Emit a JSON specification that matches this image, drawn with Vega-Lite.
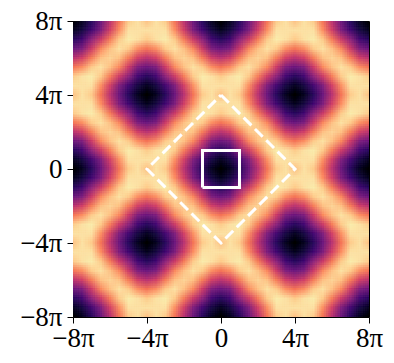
{"$schema":"https://vega.github.io/schema/vega-lite/v6.json","width":296,"height":296,"autosize":"none","padding":{"left":73,"top":21,"right":25,"bottom":46},"background":"white","view":{"stroke":"#000","strokeWidth":1},
"data":{"values":[
{"x":-8,"y":8,"v":0},{"x":-7.5,"y":8,"v":0.07},{"x":-7,"y":8,"v":0.17},{"x":-6.5,"y":8,"v":0.33},{"x":-6,"y":8,"v":0.52},{"x":-5.5,"y":8,"v":0.72},{"x":-5,"y":8,"v":0.9},{"x":-4.5,"y":8,"v":0.95},{"x":-4,"y":8,"v":0.88},{"x":-3.5,"y":8,"v":0.95},{"x":-3,"y":8,"v":0.9},{"x":-2.5,"y":8,"v":0.72},{"x":-2,"y":8,"v":0.52},{"x":-1.5,"y":8,"v":0.33},{"x":-1,"y":8,"v":0.17},{"x":-0.5,"y":8,"v":0.07},{"x":0,"y":8,"v":0},{"x":0.5,"y":8,"v":0.07},{"x":1,"y":8,"v":0.17},{"x":1.5,"y":8,"v":0.33},{"x":2,"y":8,"v":0.52},{"x":2.5,"y":8,"v":0.72},{"x":3,"y":8,"v":0.9},{"x":3.5,"y":8,"v":0.95},{"x":4,"y":8,"v":0.88},{"x":4.5,"y":8,"v":0.95},{"x":5,"y":8,"v":0.9},{"x":5.5,"y":8,"v":0.72},{"x":6,"y":8,"v":0.52},{"x":6.5,"y":8,"v":0.33},{"x":7,"y":8,"v":0.17},{"x":7.5,"y":8,"v":0.07},{"x":8,"y":8,"v":0},
{"x":-8,"y":7.5,"v":0.07},{"x":-7.5,"y":7.5,"v":0.13},{"x":-7,"y":7.5,"v":0.23},{"x":-6.5,"y":7.5,"v":0.38},{"x":-6,"y":7.5,"v":0.58},{"x":-5.5,"y":7.5,"v":0.78},{"x":-5,"y":7.5,"v":0.95},{"x":-4.5,"y":7.5,"v":0.95},{"x":-4,"y":7.5,"v":0.95},{"x":-3.5,"y":7.5,"v":0.95},{"x":-3,"y":7.5,"v":0.95},{"x":-2.5,"y":7.5,"v":0.78},{"x":-2,"y":7.5,"v":0.58},{"x":-1.5,"y":7.5,"v":0.38},{"x":-1,"y":7.5,"v":0.23},{"x":-0.5,"y":7.5,"v":0.13},{"x":0,"y":7.5,"v":0.07},{"x":0.5,"y":7.5,"v":0.13},{"x":1,"y":7.5,"v":0.23},{"x":1.5,"y":7.5,"v":0.38},{"x":2,"y":7.5,"v":0.58},{"x":2.5,"y":7.5,"v":0.78},{"x":3,"y":7.5,"v":0.95},{"x":3.5,"y":7.5,"v":0.95},{"x":4,"y":7.5,"v":0.95},{"x":4.5,"y":7.5,"v":0.95},{"x":5,"y":7.5,"v":0.95},{"x":5.5,"y":7.5,"v":0.78},{"x":6,"y":7.5,"v":0.58},{"x":6.5,"y":7.5,"v":0.38},{"x":7,"y":7.5,"v":0.23},{"x":7.5,"y":7.5,"v":0.13},{"x":8,"y":7.5,"v":0.07},
{"x":-8,"y":7,"v":0.17},{"x":-7.5,"y":7,"v":0.23},{"x":-7,"y":7,"v":0.42},{"x":-6.5,"y":7,"v":0.56},{"x":-6,"y":7,"v":0.74},{"x":-5.5,"y":7,"v":0.9},{"x":-5,"y":7,"v":0.97},{"x":-4.5,"y":7,"v":0.95},{"x":-4,"y":7,"v":0.9},{"x":-3.5,"y":7,"v":0.95},{"x":-3,"y":7,"v":0.97},{"x":-2.5,"y":7,"v":0.9},{"x":-2,"y":7,"v":0.74},{"x":-1.5,"y":7,"v":0.56},{"x":-1,"y":7,"v":0.42},{"x":-0.5,"y":7,"v":0.23},{"x":0,"y":7,"v":0.17},{"x":0.5,"y":7,"v":0.23},{"x":1,"y":7,"v":0.42},{"x":1.5,"y":7,"v":0.56},{"x":2,"y":7,"v":0.74},{"x":2.5,"y":7,"v":0.9},{"x":3,"y":7,"v":0.97},{"x":3.5,"y":7,"v":0.95},{"x":4,"y":7,"v":0.9},{"x":4.5,"y":7,"v":0.95},{"x":5,"y":7,"v":0.97},{"x":5.5,"y":7,"v":0.9},{"x":6,"y":7,"v":0.74},{"x":6.5,"y":7,"v":0.56},{"x":7,"y":7,"v":0.42},{"x":7.5,"y":7,"v":0.23},{"x":8,"y":7,"v":0.17},
{"x":-8,"y":6.5,"v":0.33},{"x":-7.5,"y":6.5,"v":0.38},{"x":-7,"y":6.5,"v":0.56},{"x":-6.5,"y":6.5,"v":0.76},{"x":-6,"y":6.5,"v":0.88},{"x":-5.5,"y":6.5,"v":0.95},{"x":-5,"y":6.5,"v":0.9},{"x":-4.5,"y":6.5,"v":0.78},{"x":-4,"y":6.5,"v":0.72},{"x":-3.5,"y":6.5,"v":0.78},{"x":-3,"y":6.5,"v":0.9},{"x":-2.5,"y":6.5,"v":0.95},{"x":-2,"y":6.5,"v":0.88},{"x":-1.5,"y":6.5,"v":0.76},{"x":-1,"y":6.5,"v":0.56},{"x":-0.5,"y":6.5,"v":0.38},{"x":0,"y":6.5,"v":0.33},{"x":0.5,"y":6.5,"v":0.38},{"x":1,"y":6.5,"v":0.56},{"x":1.5,"y":6.5,"v":0.76},{"x":2,"y":6.5,"v":0.88},{"x":2.5,"y":6.5,"v":0.95},{"x":3,"y":6.5,"v":0.9},{"x":3.5,"y":6.5,"v":0.78},{"x":4,"y":6.5,"v":0.72},{"x":4.5,"y":6.5,"v":0.78},{"x":5,"y":6.5,"v":0.9},{"x":5.5,"y":6.5,"v":0.95},{"x":6,"y":6.5,"v":0.88},{"x":6.5,"y":6.5,"v":0.76},{"x":7,"y":6.5,"v":0.56},{"x":7.5,"y":6.5,"v":0.38},{"x":8,"y":6.5,"v":0.33},
{"x":-8,"y":6,"v":0.52},{"x":-7.5,"y":6,"v":0.58},{"x":-7,"y":6,"v":0.74},{"x":-6.5,"y":6,"v":0.88},{"x":-6,"y":6,"v":0.92},{"x":-5.5,"y":6,"v":0.88},{"x":-5,"y":6,"v":0.74},{"x":-4.5,"y":6,"v":0.58},{"x":-4,"y":6,"v":0.52},{"x":-3.5,"y":6,"v":0.58},{"x":-3,"y":6,"v":0.74},{"x":-2.5,"y":6,"v":0.88},{"x":-2,"y":6,"v":0.92},{"x":-1.5,"y":6,"v":0.88},{"x":-1,"y":6,"v":0.74},{"x":-0.5,"y":6,"v":0.58},{"x":0,"y":6,"v":0.52},{"x":0.5,"y":6,"v":0.58},{"x":1,"y":6,"v":0.74},{"x":1.5,"y":6,"v":0.88},{"x":2,"y":6,"v":0.92},{"x":2.5,"y":6,"v":0.88},{"x":3,"y":6,"v":0.74},{"x":3.5,"y":6,"v":0.58},{"x":4,"y":6,"v":0.52},{"x":4.5,"y":6,"v":0.58},{"x":5,"y":6,"v":0.74},{"x":5.5,"y":6,"v":0.88},{"x":6,"y":6,"v":0.92},{"x":6.5,"y":6,"v":0.88},{"x":7,"y":6,"v":0.74},{"x":7.5,"y":6,"v":0.58},{"x":8,"y":6,"v":0.52},
{"x":-8,"y":5.5,"v":0.72},{"x":-7.5,"y":5.5,"v":0.78},{"x":-7,"y":5.5,"v":0.9},{"x":-6.5,"y":5.5,"v":0.95},{"x":-6,"y":5.5,"v":0.88},{"x":-5.5,"y":5.5,"v":0.76},{"x":-5,"y":5.5,"v":0.56},{"x":-4.5,"y":5.5,"v":0.38},{"x":-4,"y":5.5,"v":0.33},{"x":-3.5,"y":5.5,"v":0.38},{"x":-3,"y":5.5,"v":0.56},{"x":-2.5,"y":5.5,"v":0.76},{"x":-2,"y":5.5,"v":0.88},{"x":-1.5,"y":5.5,"v":0.95},{"x":-1,"y":5.5,"v":0.9},{"x":-0.5,"y":5.5,"v":0.78},{"x":0,"y":5.5,"v":0.72},{"x":0.5,"y":5.5,"v":0.78},{"x":1,"y":5.5,"v":0.9},{"x":1.5,"y":5.5,"v":0.95},{"x":2,"y":5.5,"v":0.88},{"x":2.5,"y":5.5,"v":0.76},{"x":3,"y":5.5,"v":0.56},{"x":3.5,"y":5.5,"v":0.38},{"x":4,"y":5.5,"v":0.33},{"x":4.5,"y":5.5,"v":0.38},{"x":5,"y":5.5,"v":0.56},{"x":5.5,"y":5.5,"v":0.76},{"x":6,"y":5.5,"v":0.88},{"x":6.5,"y":5.5,"v":0.95},{"x":7,"y":5.5,"v":0.9},{"x":7.5,"y":5.5,"v":0.78},{"x":8,"y":5.5,"v":0.72},
{"x":-8,"y":5,"v":0.9},{"x":-7.5,"y":5,"v":0.95},{"x":-7,"y":5,"v":0.97},{"x":-6.5,"y":5,"v":0.9},{"x":-6,"y":5,"v":0.74},{"x":-5.5,"y":5,"v":0.56},{"x":-5,"y":5,"v":0.42},{"x":-4.5,"y":5,"v":0.23},{"x":-4,"y":5,"v":0.17},{"x":-3.5,"y":5,"v":0.23},{"x":-3,"y":5,"v":0.42},{"x":-2.5,"y":5,"v":0.56},{"x":-2,"y":5,"v":0.74},{"x":-1.5,"y":5,"v":0.9},{"x":-1,"y":5,"v":0.97},{"x":-0.5,"y":5,"v":0.95},{"x":0,"y":5,"v":0.9},{"x":0.5,"y":5,"v":0.95},{"x":1,"y":5,"v":0.97},{"x":1.5,"y":5,"v":0.9},{"x":2,"y":5,"v":0.74},{"x":2.5,"y":5,"v":0.56},{"x":3,"y":5,"v":0.42},{"x":3.5,"y":5,"v":0.23},{"x":4,"y":5,"v":0.17},{"x":4.5,"y":5,"v":0.23},{"x":5,"y":5,"v":0.42},{"x":5.5,"y":5,"v":0.56},{"x":6,"y":5,"v":0.74},{"x":6.5,"y":5,"v":0.9},{"x":7,"y":5,"v":0.97},{"x":7.5,"y":5,"v":0.95},{"x":8,"y":5,"v":0.9},
{"x":-8,"y":4.5,"v":0.95},{"x":-7.5,"y":4.5,"v":0.95},{"x":-7,"y":4.5,"v":0.95},{"x":-6.5,"y":4.5,"v":0.78},{"x":-6,"y":4.5,"v":0.58},{"x":-5.5,"y":4.5,"v":0.38},{"x":-5,"y":4.5,"v":0.23},{"x":-4.5,"y":4.5,"v":0.13},{"x":-4,"y":4.5,"v":0.07},{"x":-3.5,"y":4.5,"v":0.13},{"x":-3,"y":4.5,"v":0.23},{"x":-2.5,"y":4.5,"v":0.38},{"x":-2,"y":4.5,"v":0.58},{"x":-1.5,"y":4.5,"v":0.78},{"x":-1,"y":4.5,"v":0.95},{"x":-0.5,"y":4.5,"v":0.95},{"x":0,"y":4.5,"v":0.95},{"x":0.5,"y":4.5,"v":0.95},{"x":1,"y":4.5,"v":0.95},{"x":1.5,"y":4.5,"v":0.78},{"x":2,"y":4.5,"v":0.58},{"x":2.5,"y":4.5,"v":0.38},{"x":3,"y":4.5,"v":0.23},{"x":3.5,"y":4.5,"v":0.13},{"x":4,"y":4.5,"v":0.07},{"x":4.5,"y":4.5,"v":0.13},{"x":5,"y":4.5,"v":0.23},{"x":5.5,"y":4.5,"v":0.38},{"x":6,"y":4.5,"v":0.58},{"x":6.5,"y":4.5,"v":0.78},{"x":7,"y":4.5,"v":0.95},{"x":7.5,"y":4.5,"v":0.95},{"x":8,"y":4.5,"v":0.95},
{"x":-8,"y":4,"v":0.88},{"x":-7.5,"y":4,"v":0.95},{"x":-7,"y":4,"v":0.9},{"x":-6.5,"y":4,"v":0.72},{"x":-6,"y":4,"v":0.52},{"x":-5.5,"y":4,"v":0.33},{"x":-5,"y":4,"v":0.17},{"x":-4.5,"y":4,"v":0.07},{"x":-4,"y":4,"v":0},{"x":-3.5,"y":4,"v":0.07},{"x":-3,"y":4,"v":0.17},{"x":-2.5,"y":4,"v":0.33},{"x":-2,"y":4,"v":0.52},{"x":-1.5,"y":4,"v":0.72},{"x":-1,"y":4,"v":0.9},{"x":-0.5,"y":4,"v":0.95},{"x":0,"y":4,"v":0.88},{"x":0.5,"y":4,"v":0.95},{"x":1,"y":4,"v":0.9},{"x":1.5,"y":4,"v":0.72},{"x":2,"y":4,"v":0.52},{"x":2.5,"y":4,"v":0.33},{"x":3,"y":4,"v":0.17},{"x":3.5,"y":4,"v":0.07},{"x":4,"y":4,"v":0},{"x":4.5,"y":4,"v":0.07},{"x":5,"y":4,"v":0.17},{"x":5.5,"y":4,"v":0.33},{"x":6,"y":4,"v":0.52},{"x":6.5,"y":4,"v":0.72},{"x":7,"y":4,"v":0.9},{"x":7.5,"y":4,"v":0.95},{"x":8,"y":4,"v":0.88},
{"x":-8,"y":3.5,"v":0.95},{"x":-7.5,"y":3.5,"v":0.95},{"x":-7,"y":3.5,"v":0.95},{"x":-6.5,"y":3.5,"v":0.78},{"x":-6,"y":3.5,"v":0.58},{"x":-5.5,"y":3.5,"v":0.38},{"x":-5,"y":3.5,"v":0.23},{"x":-4.5,"y":3.5,"v":0.13},{"x":-4,"y":3.5,"v":0.07},{"x":-3.5,"y":3.5,"v":0.13},{"x":-3,"y":3.5,"v":0.23},{"x":-2.5,"y":3.5,"v":0.38},{"x":-2,"y":3.5,"v":0.58},{"x":-1.5,"y":3.5,"v":0.78},{"x":-1,"y":3.5,"v":0.95},{"x":-0.5,"y":3.5,"v":0.95},{"x":0,"y":3.5,"v":0.95},{"x":0.5,"y":3.5,"v":0.95},{"x":1,"y":3.5,"v":0.95},{"x":1.5,"y":3.5,"v":0.78},{"x":2,"y":3.5,"v":0.58},{"x":2.5,"y":3.5,"v":0.38},{"x":3,"y":3.5,"v":0.23},{"x":3.5,"y":3.5,"v":0.13},{"x":4,"y":3.5,"v":0.07},{"x":4.5,"y":3.5,"v":0.13},{"x":5,"y":3.5,"v":0.23},{"x":5.5,"y":3.5,"v":0.38},{"x":6,"y":3.5,"v":0.58},{"x":6.5,"y":3.5,"v":0.78},{"x":7,"y":3.5,"v":0.95},{"x":7.5,"y":3.5,"v":0.95},{"x":8,"y":3.5,"v":0.95},
{"x":-8,"y":3,"v":0.9},{"x":-7.5,"y":3,"v":0.95},{"x":-7,"y":3,"v":0.97},{"x":-6.5,"y":3,"v":0.9},{"x":-6,"y":3,"v":0.74},{"x":-5.5,"y":3,"v":0.56},{"x":-5,"y":3,"v":0.42},{"x":-4.5,"y":3,"v":0.23},{"x":-4,"y":3,"v":0.17},{"x":-3.5,"y":3,"v":0.23},{"x":-3,"y":3,"v":0.42},{"x":-2.5,"y":3,"v":0.56},{"x":-2,"y":3,"v":0.74},{"x":-1.5,"y":3,"v":0.9},{"x":-1,"y":3,"v":0.97},{"x":-0.5,"y":3,"v":0.95},{"x":0,"y":3,"v":0.9},{"x":0.5,"y":3,"v":0.95},{"x":1,"y":3,"v":0.97},{"x":1.5,"y":3,"v":0.9},{"x":2,"y":3,"v":0.74},{"x":2.5,"y":3,"v":0.56},{"x":3,"y":3,"v":0.42},{"x":3.5,"y":3,"v":0.23},{"x":4,"y":3,"v":0.17},{"x":4.5,"y":3,"v":0.23},{"x":5,"y":3,"v":0.42},{"x":5.5,"y":3,"v":0.56},{"x":6,"y":3,"v":0.74},{"x":6.5,"y":3,"v":0.9},{"x":7,"y":3,"v":0.97},{"x":7.5,"y":3,"v":0.95},{"x":8,"y":3,"v":0.9},
{"x":-8,"y":2.5,"v":0.72},{"x":-7.5,"y":2.5,"v":0.78},{"x":-7,"y":2.5,"v":0.9},{"x":-6.5,"y":2.5,"v":0.95},{"x":-6,"y":2.5,"v":0.88},{"x":-5.5,"y":2.5,"v":0.76},{"x":-5,"y":2.5,"v":0.56},{"x":-4.5,"y":2.5,"v":0.38},{"x":-4,"y":2.5,"v":0.33},{"x":-3.5,"y":2.5,"v":0.38},{"x":-3,"y":2.5,"v":0.56},{"x":-2.5,"y":2.5,"v":0.76},{"x":-2,"y":2.5,"v":0.88},{"x":-1.5,"y":2.5,"v":0.95},{"x":-1,"y":2.5,"v":0.9},{"x":-0.5,"y":2.5,"v":0.78},{"x":0,"y":2.5,"v":0.72},{"x":0.5,"y":2.5,"v":0.78},{"x":1,"y":2.5,"v":0.9},{"x":1.5,"y":2.5,"v":0.95},{"x":2,"y":2.5,"v":0.88},{"x":2.5,"y":2.5,"v":0.76},{"x":3,"y":2.5,"v":0.56},{"x":3.5,"y":2.5,"v":0.38},{"x":4,"y":2.5,"v":0.33},{"x":4.5,"y":2.5,"v":0.38},{"x":5,"y":2.5,"v":0.56},{"x":5.5,"y":2.5,"v":0.76},{"x":6,"y":2.5,"v":0.88},{"x":6.5,"y":2.5,"v":0.95},{"x":7,"y":2.5,"v":0.9},{"x":7.5,"y":2.5,"v":0.78},{"x":8,"y":2.5,"v":0.72},
{"x":-8,"y":2,"v":0.52},{"x":-7.5,"y":2,"v":0.58},{"x":-7,"y":2,"v":0.74},{"x":-6.5,"y":2,"v":0.88},{"x":-6,"y":2,"v":0.92},{"x":-5.5,"y":2,"v":0.88},{"x":-5,"y":2,"v":0.74},{"x":-4.5,"y":2,"v":0.58},{"x":-4,"y":2,"v":0.52},{"x":-3.5,"y":2,"v":0.58},{"x":-3,"y":2,"v":0.74},{"x":-2.5,"y":2,"v":0.88},{"x":-2,"y":2,"v":0.92},{"x":-1.5,"y":2,"v":0.88},{"x":-1,"y":2,"v":0.74},{"x":-0.5,"y":2,"v":0.58},{"x":0,"y":2,"v":0.52},{"x":0.5,"y":2,"v":0.58},{"x":1,"y":2,"v":0.74},{"x":1.5,"y":2,"v":0.88},{"x":2,"y":2,"v":0.92},{"x":2.5,"y":2,"v":0.88},{"x":3,"y":2,"v":0.74},{"x":3.5,"y":2,"v":0.58},{"x":4,"y":2,"v":0.52},{"x":4.5,"y":2,"v":0.58},{"x":5,"y":2,"v":0.74},{"x":5.5,"y":2,"v":0.88},{"x":6,"y":2,"v":0.92},{"x":6.5,"y":2,"v":0.88},{"x":7,"y":2,"v":0.74},{"x":7.5,"y":2,"v":0.58},{"x":8,"y":2,"v":0.52},
{"x":-8,"y":1.5,"v":0.33},{"x":-7.5,"y":1.5,"v":0.38},{"x":-7,"y":1.5,"v":0.56},{"x":-6.5,"y":1.5,"v":0.76},{"x":-6,"y":1.5,"v":0.88},{"x":-5.5,"y":1.5,"v":0.95},{"x":-5,"y":1.5,"v":0.9},{"x":-4.5,"y":1.5,"v":0.78},{"x":-4,"y":1.5,"v":0.72},{"x":-3.5,"y":1.5,"v":0.78},{"x":-3,"y":1.5,"v":0.9},{"x":-2.5,"y":1.5,"v":0.95},{"x":-2,"y":1.5,"v":0.88},{"x":-1.5,"y":1.5,"v":0.76},{"x":-1,"y":1.5,"v":0.56},{"x":-0.5,"y":1.5,"v":0.38},{"x":0,"y":1.5,"v":0.33},{"x":0.5,"y":1.5,"v":0.38},{"x":1,"y":1.5,"v":0.56},{"x":1.5,"y":1.5,"v":0.76},{"x":2,"y":1.5,"v":0.88},{"x":2.5,"y":1.5,"v":0.95},{"x":3,"y":1.5,"v":0.9},{"x":3.5,"y":1.5,"v":0.78},{"x":4,"y":1.5,"v":0.72},{"x":4.5,"y":1.5,"v":0.78},{"x":5,"y":1.5,"v":0.9},{"x":5.5,"y":1.5,"v":0.95},{"x":6,"y":1.5,"v":0.88},{"x":6.5,"y":1.5,"v":0.76},{"x":7,"y":1.5,"v":0.56},{"x":7.5,"y":1.5,"v":0.38},{"x":8,"y":1.5,"v":0.33},
{"x":-8,"y":1,"v":0.17},{"x":-7.5,"y":1,"v":0.23},{"x":-7,"y":1,"v":0.42},{"x":-6.5,"y":1,"v":0.56},{"x":-6,"y":1,"v":0.74},{"x":-5.5,"y":1,"v":0.9},{"x":-5,"y":1,"v":0.97},{"x":-4.5,"y":1,"v":0.95},{"x":-4,"y":1,"v":0.9},{"x":-3.5,"y":1,"v":0.95},{"x":-3,"y":1,"v":0.97},{"x":-2.5,"y":1,"v":0.9},{"x":-2,"y":1,"v":0.74},{"x":-1.5,"y":1,"v":0.56},{"x":-1,"y":1,"v":0.42},{"x":-0.5,"y":1,"v":0.23},{"x":0,"y":1,"v":0.17},{"x":0.5,"y":1,"v":0.23},{"x":1,"y":1,"v":0.42},{"x":1.5,"y":1,"v":0.56},{"x":2,"y":1,"v":0.74},{"x":2.5,"y":1,"v":0.9},{"x":3,"y":1,"v":0.97},{"x":3.5,"y":1,"v":0.95},{"x":4,"y":1,"v":0.9},{"x":4.5,"y":1,"v":0.95},{"x":5,"y":1,"v":0.97},{"x":5.5,"y":1,"v":0.9},{"x":6,"y":1,"v":0.74},{"x":6.5,"y":1,"v":0.56},{"x":7,"y":1,"v":0.42},{"x":7.5,"y":1,"v":0.23},{"x":8,"y":1,"v":0.17},
{"x":-8,"y":0.5,"v":0.07},{"x":-7.5,"y":0.5,"v":0.13},{"x":-7,"y":0.5,"v":0.23},{"x":-6.5,"y":0.5,"v":0.38},{"x":-6,"y":0.5,"v":0.58},{"x":-5.5,"y":0.5,"v":0.78},{"x":-5,"y":0.5,"v":0.95},{"x":-4.5,"y":0.5,"v":0.95},{"x":-4,"y":0.5,"v":0.95},{"x":-3.5,"y":0.5,"v":0.95},{"x":-3,"y":0.5,"v":0.95},{"x":-2.5,"y":0.5,"v":0.78},{"x":-2,"y":0.5,"v":0.58},{"x":-1.5,"y":0.5,"v":0.38},{"x":-1,"y":0.5,"v":0.23},{"x":-0.5,"y":0.5,"v":0.13},{"x":0,"y":0.5,"v":0.07},{"x":0.5,"y":0.5,"v":0.13},{"x":1,"y":0.5,"v":0.23},{"x":1.5,"y":0.5,"v":0.38},{"x":2,"y":0.5,"v":0.58},{"x":2.5,"y":0.5,"v":0.78},{"x":3,"y":0.5,"v":0.95},{"x":3.5,"y":0.5,"v":0.95},{"x":4,"y":0.5,"v":0.95},{"x":4.5,"y":0.5,"v":0.95},{"x":5,"y":0.5,"v":0.95},{"x":5.5,"y":0.5,"v":0.78},{"x":6,"y":0.5,"v":0.58},{"x":6.5,"y":0.5,"v":0.38},{"x":7,"y":0.5,"v":0.23},{"x":7.5,"y":0.5,"v":0.13},{"x":8,"y":0.5,"v":0.07},
{"x":-8,"y":0,"v":0},{"x":-7.5,"y":0,"v":0.07},{"x":-7,"y":0,"v":0.17},{"x":-6.5,"y":0,"v":0.33},{"x":-6,"y":0,"v":0.52},{"x":-5.5,"y":0,"v":0.72},{"x":-5,"y":0,"v":0.9},{"x":-4.5,"y":0,"v":0.95},{"x":-4,"y":0,"v":0.88},{"x":-3.5,"y":0,"v":0.95},{"x":-3,"y":0,"v":0.9},{"x":-2.5,"y":0,"v":0.72},{"x":-2,"y":0,"v":0.52},{"x":-1.5,"y":0,"v":0.33},{"x":-1,"y":0,"v":0.17},{"x":-0.5,"y":0,"v":0.07},{"x":0,"y":0,"v":0},{"x":0.5,"y":0,"v":0.07},{"x":1,"y":0,"v":0.17},{"x":1.5,"y":0,"v":0.33},{"x":2,"y":0,"v":0.52},{"x":2.5,"y":0,"v":0.72},{"x":3,"y":0,"v":0.9},{"x":3.5,"y":0,"v":0.95},{"x":4,"y":0,"v":0.88},{"x":4.5,"y":0,"v":0.95},{"x":5,"y":0,"v":0.9},{"x":5.5,"y":0,"v":0.72},{"x":6,"y":0,"v":0.52},{"x":6.5,"y":0,"v":0.33},{"x":7,"y":0,"v":0.17},{"x":7.5,"y":0,"v":0.07},{"x":8,"y":0,"v":0},
{"x":-8,"y":-0.5,"v":0.07},{"x":-7.5,"y":-0.5,"v":0.13},{"x":-7,"y":-0.5,"v":0.23},{"x":-6.5,"y":-0.5,"v":0.38},{"x":-6,"y":-0.5,"v":0.58},{"x":-5.5,"y":-0.5,"v":0.78},{"x":-5,"y":-0.5,"v":0.95},{"x":-4.5,"y":-0.5,"v":0.95},{"x":-4,"y":-0.5,"v":0.95},{"x":-3.5,"y":-0.5,"v":0.95},{"x":-3,"y":-0.5,"v":0.95},{"x":-2.5,"y":-0.5,"v":0.78},{"x":-2,"y":-0.5,"v":0.58},{"x":-1.5,"y":-0.5,"v":0.38},{"x":-1,"y":-0.5,"v":0.23},{"x":-0.5,"y":-0.5,"v":0.13},{"x":0,"y":-0.5,"v":0.07},{"x":0.5,"y":-0.5,"v":0.13},{"x":1,"y":-0.5,"v":0.23},{"x":1.5,"y":-0.5,"v":0.38},{"x":2,"y":-0.5,"v":0.58},{"x":2.5,"y":-0.5,"v":0.78},{"x":3,"y":-0.5,"v":0.95},{"x":3.5,"y":-0.5,"v":0.95},{"x":4,"y":-0.5,"v":0.95},{"x":4.5,"y":-0.5,"v":0.95},{"x":5,"y":-0.5,"v":0.95},{"x":5.5,"y":-0.5,"v":0.78},{"x":6,"y":-0.5,"v":0.58},{"x":6.5,"y":-0.5,"v":0.38},{"x":7,"y":-0.5,"v":0.23},{"x":7.5,"y":-0.5,"v":0.13},{"x":8,"y":-0.5,"v":0.07},
{"x":-8,"y":-1,"v":0.17},{"x":-7.5,"y":-1,"v":0.23},{"x":-7,"y":-1,"v":0.42},{"x":-6.5,"y":-1,"v":0.56},{"x":-6,"y":-1,"v":0.74},{"x":-5.5,"y":-1,"v":0.9},{"x":-5,"y":-1,"v":0.97},{"x":-4.5,"y":-1,"v":0.95},{"x":-4,"y":-1,"v":0.9},{"x":-3.5,"y":-1,"v":0.95},{"x":-3,"y":-1,"v":0.97},{"x":-2.5,"y":-1,"v":0.9},{"x":-2,"y":-1,"v":0.74},{"x":-1.5,"y":-1,"v":0.56},{"x":-1,"y":-1,"v":0.42},{"x":-0.5,"y":-1,"v":0.23},{"x":0,"y":-1,"v":0.17},{"x":0.5,"y":-1,"v":0.23},{"x":1,"y":-1,"v":0.42},{"x":1.5,"y":-1,"v":0.56},{"x":2,"y":-1,"v":0.74},{"x":2.5,"y":-1,"v":0.9},{"x":3,"y":-1,"v":0.97},{"x":3.5,"y":-1,"v":0.95},{"x":4,"y":-1,"v":0.9},{"x":4.5,"y":-1,"v":0.95},{"x":5,"y":-1,"v":0.97},{"x":5.5,"y":-1,"v":0.9},{"x":6,"y":-1,"v":0.74},{"x":6.5,"y":-1,"v":0.56},{"x":7,"y":-1,"v":0.42},{"x":7.5,"y":-1,"v":0.23},{"x":8,"y":-1,"v":0.17},
{"x":-8,"y":-1.5,"v":0.33},{"x":-7.5,"y":-1.5,"v":0.38},{"x":-7,"y":-1.5,"v":0.56},{"x":-6.5,"y":-1.5,"v":0.76},{"x":-6,"y":-1.5,"v":0.88},{"x":-5.5,"y":-1.5,"v":0.95},{"x":-5,"y":-1.5,"v":0.9},{"x":-4.5,"y":-1.5,"v":0.78},{"x":-4,"y":-1.5,"v":0.72},{"x":-3.5,"y":-1.5,"v":0.78},{"x":-3,"y":-1.5,"v":0.9},{"x":-2.5,"y":-1.5,"v":0.95},{"x":-2,"y":-1.5,"v":0.88},{"x":-1.5,"y":-1.5,"v":0.76},{"x":-1,"y":-1.5,"v":0.56},{"x":-0.5,"y":-1.5,"v":0.38},{"x":0,"y":-1.5,"v":0.33},{"x":0.5,"y":-1.5,"v":0.38},{"x":1,"y":-1.5,"v":0.56},{"x":1.5,"y":-1.5,"v":0.76},{"x":2,"y":-1.5,"v":0.88},{"x":2.5,"y":-1.5,"v":0.95},{"x":3,"y":-1.5,"v":0.9},{"x":3.5,"y":-1.5,"v":0.78},{"x":4,"y":-1.5,"v":0.72},{"x":4.5,"y":-1.5,"v":0.78},{"x":5,"y":-1.5,"v":0.9},{"x":5.5,"y":-1.5,"v":0.95},{"x":6,"y":-1.5,"v":0.88},{"x":6.5,"y":-1.5,"v":0.76},{"x":7,"y":-1.5,"v":0.56},{"x":7.5,"y":-1.5,"v":0.38},{"x":8,"y":-1.5,"v":0.33},
{"x":-8,"y":-2,"v":0.52},{"x":-7.5,"y":-2,"v":0.58},{"x":-7,"y":-2,"v":0.74},{"x":-6.5,"y":-2,"v":0.88},{"x":-6,"y":-2,"v":0.92},{"x":-5.5,"y":-2,"v":0.88},{"x":-5,"y":-2,"v":0.74},{"x":-4.5,"y":-2,"v":0.58},{"x":-4,"y":-2,"v":0.52},{"x":-3.5,"y":-2,"v":0.58},{"x":-3,"y":-2,"v":0.74},{"x":-2.5,"y":-2,"v":0.88},{"x":-2,"y":-2,"v":0.92},{"x":-1.5,"y":-2,"v":0.88},{"x":-1,"y":-2,"v":0.74},{"x":-0.5,"y":-2,"v":0.58},{"x":0,"y":-2,"v":0.52},{"x":0.5,"y":-2,"v":0.58},{"x":1,"y":-2,"v":0.74},{"x":1.5,"y":-2,"v":0.88},{"x":2,"y":-2,"v":0.92},{"x":2.5,"y":-2,"v":0.88},{"x":3,"y":-2,"v":0.74},{"x":3.5,"y":-2,"v":0.58},{"x":4,"y":-2,"v":0.52},{"x":4.5,"y":-2,"v":0.58},{"x":5,"y":-2,"v":0.74},{"x":5.5,"y":-2,"v":0.88},{"x":6,"y":-2,"v":0.92},{"x":6.5,"y":-2,"v":0.88},{"x":7,"y":-2,"v":0.74},{"x":7.5,"y":-2,"v":0.58},{"x":8,"y":-2,"v":0.52},
{"x":-8,"y":-2.5,"v":0.72},{"x":-7.5,"y":-2.5,"v":0.78},{"x":-7,"y":-2.5,"v":0.9},{"x":-6.5,"y":-2.5,"v":0.95},{"x":-6,"y":-2.5,"v":0.88},{"x":-5.5,"y":-2.5,"v":0.76},{"x":-5,"y":-2.5,"v":0.56},{"x":-4.5,"y":-2.5,"v":0.38},{"x":-4,"y":-2.5,"v":0.33},{"x":-3.5,"y":-2.5,"v":0.38},{"x":-3,"y":-2.5,"v":0.56},{"x":-2.5,"y":-2.5,"v":0.76},{"x":-2,"y":-2.5,"v":0.88},{"x":-1.5,"y":-2.5,"v":0.95},{"x":-1,"y":-2.5,"v":0.9},{"x":-0.5,"y":-2.5,"v":0.78},{"x":0,"y":-2.5,"v":0.72},{"x":0.5,"y":-2.5,"v":0.78},{"x":1,"y":-2.5,"v":0.9},{"x":1.5,"y":-2.5,"v":0.95},{"x":2,"y":-2.5,"v":0.88},{"x":2.5,"y":-2.5,"v":0.76},{"x":3,"y":-2.5,"v":0.56},{"x":3.5,"y":-2.5,"v":0.38},{"x":4,"y":-2.5,"v":0.33},{"x":4.5,"y":-2.5,"v":0.38},{"x":5,"y":-2.5,"v":0.56},{"x":5.5,"y":-2.5,"v":0.76},{"x":6,"y":-2.5,"v":0.88},{"x":6.5,"y":-2.5,"v":0.95},{"x":7,"y":-2.5,"v":0.9},{"x":7.5,"y":-2.5,"v":0.78},{"x":8,"y":-2.5,"v":0.72},
{"x":-8,"y":-3,"v":0.9},{"x":-7.5,"y":-3,"v":0.95},{"x":-7,"y":-3,"v":0.97},{"x":-6.5,"y":-3,"v":0.9},{"x":-6,"y":-3,"v":0.74},{"x":-5.5,"y":-3,"v":0.56},{"x":-5,"y":-3,"v":0.42},{"x":-4.5,"y":-3,"v":0.23},{"x":-4,"y":-3,"v":0.17},{"x":-3.5,"y":-3,"v":0.23},{"x":-3,"y":-3,"v":0.42},{"x":-2.5,"y":-3,"v":0.56},{"x":-2,"y":-3,"v":0.74},{"x":-1.5,"y":-3,"v":0.9},{"x":-1,"y":-3,"v":0.97},{"x":-0.5,"y":-3,"v":0.95},{"x":0,"y":-3,"v":0.9},{"x":0.5,"y":-3,"v":0.95},{"x":1,"y":-3,"v":0.97},{"x":1.5,"y":-3,"v":0.9},{"x":2,"y":-3,"v":0.74},{"x":2.5,"y":-3,"v":0.56},{"x":3,"y":-3,"v":0.42},{"x":3.5,"y":-3,"v":0.23},{"x":4,"y":-3,"v":0.17},{"x":4.5,"y":-3,"v":0.23},{"x":5,"y":-3,"v":0.42},{"x":5.5,"y":-3,"v":0.56},{"x":6,"y":-3,"v":0.74},{"x":6.5,"y":-3,"v":0.9},{"x":7,"y":-3,"v":0.97},{"x":7.5,"y":-3,"v":0.95},{"x":8,"y":-3,"v":0.9},
{"x":-8,"y":-3.5,"v":0.95},{"x":-7.5,"y":-3.5,"v":0.95},{"x":-7,"y":-3.5,"v":0.95},{"x":-6.5,"y":-3.5,"v":0.78},{"x":-6,"y":-3.5,"v":0.58},{"x":-5.5,"y":-3.5,"v":0.38},{"x":-5,"y":-3.5,"v":0.23},{"x":-4.5,"y":-3.5,"v":0.13},{"x":-4,"y":-3.5,"v":0.07},{"x":-3.5,"y":-3.5,"v":0.13},{"x":-3,"y":-3.5,"v":0.23},{"x":-2.5,"y":-3.5,"v":0.38},{"x":-2,"y":-3.5,"v":0.58},{"x":-1.5,"y":-3.5,"v":0.78},{"x":-1,"y":-3.5,"v":0.95},{"x":-0.5,"y":-3.5,"v":0.95},{"x":0,"y":-3.5,"v":0.95},{"x":0.5,"y":-3.5,"v":0.95},{"x":1,"y":-3.5,"v":0.95},{"x":1.5,"y":-3.5,"v":0.78},{"x":2,"y":-3.5,"v":0.58},{"x":2.5,"y":-3.5,"v":0.38},{"x":3,"y":-3.5,"v":0.23},{"x":3.5,"y":-3.5,"v":0.13},{"x":4,"y":-3.5,"v":0.07},{"x":4.5,"y":-3.5,"v":0.13},{"x":5,"y":-3.5,"v":0.23},{"x":5.5,"y":-3.5,"v":0.38},{"x":6,"y":-3.5,"v":0.58},{"x":6.5,"y":-3.5,"v":0.78},{"x":7,"y":-3.5,"v":0.95},{"x":7.5,"y":-3.5,"v":0.95},{"x":8,"y":-3.5,"v":0.95},
{"x":-8,"y":-4,"v":0.88},{"x":-7.5,"y":-4,"v":0.95},{"x":-7,"y":-4,"v":0.9},{"x":-6.5,"y":-4,"v":0.72},{"x":-6,"y":-4,"v":0.52},{"x":-5.5,"y":-4,"v":0.33},{"x":-5,"y":-4,"v":0.17},{"x":-4.5,"y":-4,"v":0.07},{"x":-4,"y":-4,"v":0},{"x":-3.5,"y":-4,"v":0.07},{"x":-3,"y":-4,"v":0.17},{"x":-2.5,"y":-4,"v":0.33},{"x":-2,"y":-4,"v":0.52},{"x":-1.5,"y":-4,"v":0.72},{"x":-1,"y":-4,"v":0.9},{"x":-0.5,"y":-4,"v":0.95},{"x":0,"y":-4,"v":0.88},{"x":0.5,"y":-4,"v":0.95},{"x":1,"y":-4,"v":0.9},{"x":1.5,"y":-4,"v":0.72},{"x":2,"y":-4,"v":0.52},{"x":2.5,"y":-4,"v":0.33},{"x":3,"y":-4,"v":0.17},{"x":3.5,"y":-4,"v":0.07},{"x":4,"y":-4,"v":0},{"x":4.5,"y":-4,"v":0.07},{"x":5,"y":-4,"v":0.17},{"x":5.5,"y":-4,"v":0.33},{"x":6,"y":-4,"v":0.52},{"x":6.5,"y":-4,"v":0.72},{"x":7,"y":-4,"v":0.9},{"x":7.5,"y":-4,"v":0.95},{"x":8,"y":-4,"v":0.88},
{"x":-8,"y":-4.5,"v":0.95},{"x":-7.5,"y":-4.5,"v":0.95},{"x":-7,"y":-4.5,"v":0.95},{"x":-6.5,"y":-4.5,"v":0.78},{"x":-6,"y":-4.5,"v":0.58},{"x":-5.5,"y":-4.5,"v":0.38},{"x":-5,"y":-4.5,"v":0.23},{"x":-4.5,"y":-4.5,"v":0.13},{"x":-4,"y":-4.5,"v":0.07},{"x":-3.5,"y":-4.5,"v":0.13},{"x":-3,"y":-4.5,"v":0.23},{"x":-2.5,"y":-4.5,"v":0.38},{"x":-2,"y":-4.5,"v":0.58},{"x":-1.5,"y":-4.5,"v":0.78},{"x":-1,"y":-4.5,"v":0.95},{"x":-0.5,"y":-4.5,"v":0.95},{"x":0,"y":-4.5,"v":0.95},{"x":0.5,"y":-4.5,"v":0.95},{"x":1,"y":-4.5,"v":0.95},{"x":1.5,"y":-4.5,"v":0.78},{"x":2,"y":-4.5,"v":0.58},{"x":2.5,"y":-4.5,"v":0.38},{"x":3,"y":-4.5,"v":0.23},{"x":3.5,"y":-4.5,"v":0.13},{"x":4,"y":-4.5,"v":0.07},{"x":4.5,"y":-4.5,"v":0.13},{"x":5,"y":-4.5,"v":0.23},{"x":5.5,"y":-4.5,"v":0.38},{"x":6,"y":-4.5,"v":0.58},{"x":6.5,"y":-4.5,"v":0.78},{"x":7,"y":-4.5,"v":0.95},{"x":7.5,"y":-4.5,"v":0.95},{"x":8,"y":-4.5,"v":0.95},
{"x":-8,"y":-5,"v":0.9},{"x":-7.5,"y":-5,"v":0.95},{"x":-7,"y":-5,"v":0.97},{"x":-6.5,"y":-5,"v":0.9},{"x":-6,"y":-5,"v":0.74},{"x":-5.5,"y":-5,"v":0.56},{"x":-5,"y":-5,"v":0.42},{"x":-4.5,"y":-5,"v":0.23},{"x":-4,"y":-5,"v":0.17},{"x":-3.5,"y":-5,"v":0.23},{"x":-3,"y":-5,"v":0.42},{"x":-2.5,"y":-5,"v":0.56},{"x":-2,"y":-5,"v":0.74},{"x":-1.5,"y":-5,"v":0.9},{"x":-1,"y":-5,"v":0.97},{"x":-0.5,"y":-5,"v":0.95},{"x":0,"y":-5,"v":0.9},{"x":0.5,"y":-5,"v":0.95},{"x":1,"y":-5,"v":0.97},{"x":1.5,"y":-5,"v":0.9},{"x":2,"y":-5,"v":0.74},{"x":2.5,"y":-5,"v":0.56},{"x":3,"y":-5,"v":0.42},{"x":3.5,"y":-5,"v":0.23},{"x":4,"y":-5,"v":0.17},{"x":4.5,"y":-5,"v":0.23},{"x":5,"y":-5,"v":0.42},{"x":5.5,"y":-5,"v":0.56},{"x":6,"y":-5,"v":0.74},{"x":6.5,"y":-5,"v":0.9},{"x":7,"y":-5,"v":0.97},{"x":7.5,"y":-5,"v":0.95},{"x":8,"y":-5,"v":0.9},
{"x":-8,"y":-5.5,"v":0.72},{"x":-7.5,"y":-5.5,"v":0.78},{"x":-7,"y":-5.5,"v":0.9},{"x":-6.5,"y":-5.5,"v":0.95},{"x":-6,"y":-5.5,"v":0.88},{"x":-5.5,"y":-5.5,"v":0.76},{"x":-5,"y":-5.5,"v":0.56},{"x":-4.5,"y":-5.5,"v":0.38},{"x":-4,"y":-5.5,"v":0.33},{"x":-3.5,"y":-5.5,"v":0.38},{"x":-3,"y":-5.5,"v":0.56},{"x":-2.5,"y":-5.5,"v":0.76},{"x":-2,"y":-5.5,"v":0.88},{"x":-1.5,"y":-5.5,"v":0.95},{"x":-1,"y":-5.5,"v":0.9},{"x":-0.5,"y":-5.5,"v":0.78},{"x":0,"y":-5.5,"v":0.72},{"x":0.5,"y":-5.5,"v":0.78},{"x":1,"y":-5.5,"v":0.9},{"x":1.5,"y":-5.5,"v":0.95},{"x":2,"y":-5.5,"v":0.88},{"x":2.5,"y":-5.5,"v":0.76},{"x":3,"y":-5.5,"v":0.56},{"x":3.5,"y":-5.5,"v":0.38},{"x":4,"y":-5.5,"v":0.33},{"x":4.5,"y":-5.5,"v":0.38},{"x":5,"y":-5.5,"v":0.56},{"x":5.5,"y":-5.5,"v":0.76},{"x":6,"y":-5.5,"v":0.88},{"x":6.5,"y":-5.5,"v":0.95},{"x":7,"y":-5.5,"v":0.9},{"x":7.5,"y":-5.5,"v":0.78},{"x":8,"y":-5.5,"v":0.72},
{"x":-8,"y":-6,"v":0.52},{"x":-7.5,"y":-6,"v":0.58},{"x":-7,"y":-6,"v":0.74},{"x":-6.5,"y":-6,"v":0.88},{"x":-6,"y":-6,"v":0.92},{"x":-5.5,"y":-6,"v":0.88},{"x":-5,"y":-6,"v":0.74},{"x":-4.5,"y":-6,"v":0.58},{"x":-4,"y":-6,"v":0.52},{"x":-3.5,"y":-6,"v":0.58},{"x":-3,"y":-6,"v":0.74},{"x":-2.5,"y":-6,"v":0.88},{"x":-2,"y":-6,"v":0.92},{"x":-1.5,"y":-6,"v":0.88},{"x":-1,"y":-6,"v":0.74},{"x":-0.5,"y":-6,"v":0.58},{"x":0,"y":-6,"v":0.52},{"x":0.5,"y":-6,"v":0.58},{"x":1,"y":-6,"v":0.74},{"x":1.5,"y":-6,"v":0.88},{"x":2,"y":-6,"v":0.92},{"x":2.5,"y":-6,"v":0.88},{"x":3,"y":-6,"v":0.74},{"x":3.5,"y":-6,"v":0.58},{"x":4,"y":-6,"v":0.52},{"x":4.5,"y":-6,"v":0.58},{"x":5,"y":-6,"v":0.74},{"x":5.5,"y":-6,"v":0.88},{"x":6,"y":-6,"v":0.92},{"x":6.5,"y":-6,"v":0.88},{"x":7,"y":-6,"v":0.74},{"x":7.5,"y":-6,"v":0.58},{"x":8,"y":-6,"v":0.52},
{"x":-8,"y":-6.5,"v":0.33},{"x":-7.5,"y":-6.5,"v":0.38},{"x":-7,"y":-6.5,"v":0.56},{"x":-6.5,"y":-6.5,"v":0.76},{"x":-6,"y":-6.5,"v":0.88},{"x":-5.5,"y":-6.5,"v":0.95},{"x":-5,"y":-6.5,"v":0.9},{"x":-4.5,"y":-6.5,"v":0.78},{"x":-4,"y":-6.5,"v":0.72},{"x":-3.5,"y":-6.5,"v":0.78},{"x":-3,"y":-6.5,"v":0.9},{"x":-2.5,"y":-6.5,"v":0.95},{"x":-2,"y":-6.5,"v":0.88},{"x":-1.5,"y":-6.5,"v":0.76},{"x":-1,"y":-6.5,"v":0.56},{"x":-0.5,"y":-6.5,"v":0.38},{"x":0,"y":-6.5,"v":0.33},{"x":0.5,"y":-6.5,"v":0.38},{"x":1,"y":-6.5,"v":0.56},{"x":1.5,"y":-6.5,"v":0.76},{"x":2,"y":-6.5,"v":0.88},{"x":2.5,"y":-6.5,"v":0.95},{"x":3,"y":-6.5,"v":0.9},{"x":3.5,"y":-6.5,"v":0.78},{"x":4,"y":-6.5,"v":0.72},{"x":4.5,"y":-6.5,"v":0.78},{"x":5,"y":-6.5,"v":0.9},{"x":5.5,"y":-6.5,"v":0.95},{"x":6,"y":-6.5,"v":0.88},{"x":6.5,"y":-6.5,"v":0.76},{"x":7,"y":-6.5,"v":0.56},{"x":7.5,"y":-6.5,"v":0.38},{"x":8,"y":-6.5,"v":0.33},
{"x":-8,"y":-7,"v":0.17},{"x":-7.5,"y":-7,"v":0.23},{"x":-7,"y":-7,"v":0.42},{"x":-6.5,"y":-7,"v":0.56},{"x":-6,"y":-7,"v":0.74},{"x":-5.5,"y":-7,"v":0.9},{"x":-5,"y":-7,"v":0.97},{"x":-4.5,"y":-7,"v":0.95},{"x":-4,"y":-7,"v":0.9},{"x":-3.5,"y":-7,"v":0.95},{"x":-3,"y":-7,"v":0.97},{"x":-2.5,"y":-7,"v":0.9},{"x":-2,"y":-7,"v":0.74},{"x":-1.5,"y":-7,"v":0.56},{"x":-1,"y":-7,"v":0.42},{"x":-0.5,"y":-7,"v":0.23},{"x":0,"y":-7,"v":0.17},{"x":0.5,"y":-7,"v":0.23},{"x":1,"y":-7,"v":0.42},{"x":1.5,"y":-7,"v":0.56},{"x":2,"y":-7,"v":0.74},{"x":2.5,"y":-7,"v":0.9},{"x":3,"y":-7,"v":0.97},{"x":3.5,"y":-7,"v":0.95},{"x":4,"y":-7,"v":0.9},{"x":4.5,"y":-7,"v":0.95},{"x":5,"y":-7,"v":0.97},{"x":5.5,"y":-7,"v":0.9},{"x":6,"y":-7,"v":0.74},{"x":6.5,"y":-7,"v":0.56},{"x":7,"y":-7,"v":0.42},{"x":7.5,"y":-7,"v":0.23},{"x":8,"y":-7,"v":0.17},
{"x":-8,"y":-7.5,"v":0.07},{"x":-7.5,"y":-7.5,"v":0.13},{"x":-7,"y":-7.5,"v":0.23},{"x":-6.5,"y":-7.5,"v":0.38},{"x":-6,"y":-7.5,"v":0.58},{"x":-5.5,"y":-7.5,"v":0.78},{"x":-5,"y":-7.5,"v":0.95},{"x":-4.5,"y":-7.5,"v":0.95},{"x":-4,"y":-7.5,"v":0.95},{"x":-3.5,"y":-7.5,"v":0.95},{"x":-3,"y":-7.5,"v":0.95},{"x":-2.5,"y":-7.5,"v":0.78},{"x":-2,"y":-7.5,"v":0.58},{"x":-1.5,"y":-7.5,"v":0.38},{"x":-1,"y":-7.5,"v":0.23},{"x":-0.5,"y":-7.5,"v":0.13},{"x":0,"y":-7.5,"v":0.07},{"x":0.5,"y":-7.5,"v":0.13},{"x":1,"y":-7.5,"v":0.23},{"x":1.5,"y":-7.5,"v":0.38},{"x":2,"y":-7.5,"v":0.58},{"x":2.5,"y":-7.5,"v":0.78},{"x":3,"y":-7.5,"v":0.95},{"x":3.5,"y":-7.5,"v":0.95},{"x":4,"y":-7.5,"v":0.95},{"x":4.5,"y":-7.5,"v":0.95},{"x":5,"y":-7.5,"v":0.95},{"x":5.5,"y":-7.5,"v":0.78},{"x":6,"y":-7.5,"v":0.58},{"x":6.5,"y":-7.5,"v":0.38},{"x":7,"y":-7.5,"v":0.23},{"x":7.5,"y":-7.5,"v":0.13},{"x":8,"y":-7.5,"v":0.07},
{"x":-8,"y":-8,"v":0},{"x":-7.5,"y":-8,"v":0.07},{"x":-7,"y":-8,"v":0.17},{"x":-6.5,"y":-8,"v":0.33},{"x":-6,"y":-8,"v":0.52},{"x":-5.5,"y":-8,"v":0.72},{"x":-5,"y":-8,"v":0.9},{"x":-4.5,"y":-8,"v":0.95},{"x":-4,"y":-8,"v":0.88},{"x":-3.5,"y":-8,"v":0.95},{"x":-3,"y":-8,"v":0.9},{"x":-2.5,"y":-8,"v":0.72},{"x":-2,"y":-8,"v":0.52},{"x":-1.5,"y":-8,"v":0.33},{"x":-1,"y":-8,"v":0.17},{"x":-0.5,"y":-8,"v":0.07},{"x":0,"y":-8,"v":0},{"x":0.5,"y":-8,"v":0.07},{"x":1,"y":-8,"v":0.17},{"x":1.5,"y":-8,"v":0.33},{"x":2,"y":-8,"v":0.52},{"x":2.5,"y":-8,"v":0.72},{"x":3,"y":-8,"v":0.9},{"x":3.5,"y":-8,"v":0.95},{"x":4,"y":-8,"v":0.88},{"x":4.5,"y":-8,"v":0.95},{"x":5,"y":-8,"v":0.9},{"x":5.5,"y":-8,"v":0.72},{"x":6,"y":-8,"v":0.52},{"x":6.5,"y":-8,"v":0.33},{"x":7,"y":-8,"v":0.17},{"x":7.5,"y":-8,"v":0.07},{"x":8,"y":-8,"v":0}
]},
"encoding":{
"x":{"field":"x","type":"quantitative","title":null,"scale":{"domain":[-8,8],"nice":false,"zero":false},"axis":{"values":[-8,-4,0,4,8],"grid":false,"domain":false,"tickColor":"#000","tickSize":6,"tickWidth":1,"labelFont":"Liberation Serif","labelFontSize":27,"labelColor":"#000","labelPadding":2,"labelFlush":false,"labelOverlap":false,"labelExpr":"datum.value==0?'0':(datum.value<0?'−':'')+abs(datum.value)+'π'"}},
"y":{"field":"y","type":"quantitative","title":null,"scale":{"domain":[-8,8],"nice":false,"zero":false},"axis":{"values":[-8,-4,0,4,8],"grid":false,"domain":false,"tickColor":"#000","tickSize":6,"tickWidth":1,"labelFont":"Liberation Serif","labelFontSize":27,"labelColor":"#000","labelPadding":5,"labelFlush":false,"labelOverlap":false,"labelExpr":"datum.value==0?'0':(datum.value<0?'−':'')+abs(datum.value)+'π'"}},
"color":{"field":"v","type":"quantitative","scale":{"scheme":"magma","domain":[0,1]},"legend":null}
},
"layer":[
{"mark":{"type":"rect","width":9.6,"height":9.6,"xOffset":-3.47,"yOffset":-3.47,"clip":true}},
{"mark":{"type":"rect","width":9.25,"height":9.25,"xOffset":-1.16,"yOffset":-3.47,"opacity":0.5,"clip":true}},
{"mark":{"type":"rect","width":9.25,"height":9.25,"xOffset":1.16,"yOffset":-3.47,"opacity":0.333,"clip":true}},
{"mark":{"type":"rect","width":9.25,"height":9.25,"xOffset":3.47,"yOffset":-3.47,"opacity":0.25,"clip":true}},
{"mark":{"type":"rect","width":9.25,"height":9.25,"xOffset":-3.47,"yOffset":-1.16,"opacity":0.2,"clip":true}},
{"mark":{"type":"rect","width":9.25,"height":9.25,"xOffset":-1.16,"yOffset":-1.16,"opacity":0.167,"clip":true}},
{"mark":{"type":"rect","width":9.25,"height":9.25,"xOffset":1.16,"yOffset":-1.16,"opacity":0.143,"clip":true}},
{"mark":{"type":"rect","width":9.25,"height":9.25,"xOffset":3.47,"yOffset":-1.16,"opacity":0.125,"clip":true}},
{"mark":{"type":"rect","width":9.25,"height":9.25,"xOffset":-3.47,"yOffset":1.16,"opacity":0.111,"clip":true}},
{"mark":{"type":"rect","width":9.25,"height":9.25,"xOffset":-1.16,"yOffset":1.16,"opacity":0.1,"clip":true}},
{"mark":{"type":"rect","width":9.25,"height":9.25,"xOffset":1.16,"yOffset":1.16,"opacity":0.091,"clip":true}},
{"mark":{"type":"rect","width":9.25,"height":9.25,"xOffset":3.47,"yOffset":1.16,"opacity":0.083,"clip":true}},
{"mark":{"type":"rect","width":9.25,"height":9.25,"xOffset":-3.47,"yOffset":3.47,"opacity":0.077,"clip":true}},
{"mark":{"type":"rect","width":9.25,"height":9.25,"xOffset":-1.16,"yOffset":3.47,"opacity":0.071,"clip":true}},
{"mark":{"type":"rect","width":9.25,"height":9.25,"xOffset":1.16,"yOffset":3.47,"opacity":0.067,"clip":true}},
{"mark":{"type":"rect","width":9.25,"height":9.25,"xOffset":3.47,"yOffset":3.47,"opacity":0.063,"clip":true}},
{"data":{"values":[{"i":0,"x":0,"y":4},{"i":1,"x":4,"y":0},{"i":2,"x":0,"y":-4},{"i":3,"x":-4,"y":0},{"i":4,"x":0,"y":4}]},"mark":{"type":"line","strokeWidth":3,"strokeDash":[11,5],"strokeJoin":"miter"},"encoding":{"color":{"value":"#fff"},"order":{"field":"i","type":"quantitative"}}},
{"data":{"values":[{"i":0,"x":-1,"y":-1},{"i":1,"x":1,"y":-1},{"i":2,"x":1,"y":1},{"i":3,"x":-1,"y":1},{"i":4,"x":-1,"y":-1}]},"mark":{"type":"line","strokeWidth":3,"strokeJoin":"miter"},"encoding":{"color":{"value":"#fff"},"order":{"field":"i","type":"quantitative"}}}
]}
